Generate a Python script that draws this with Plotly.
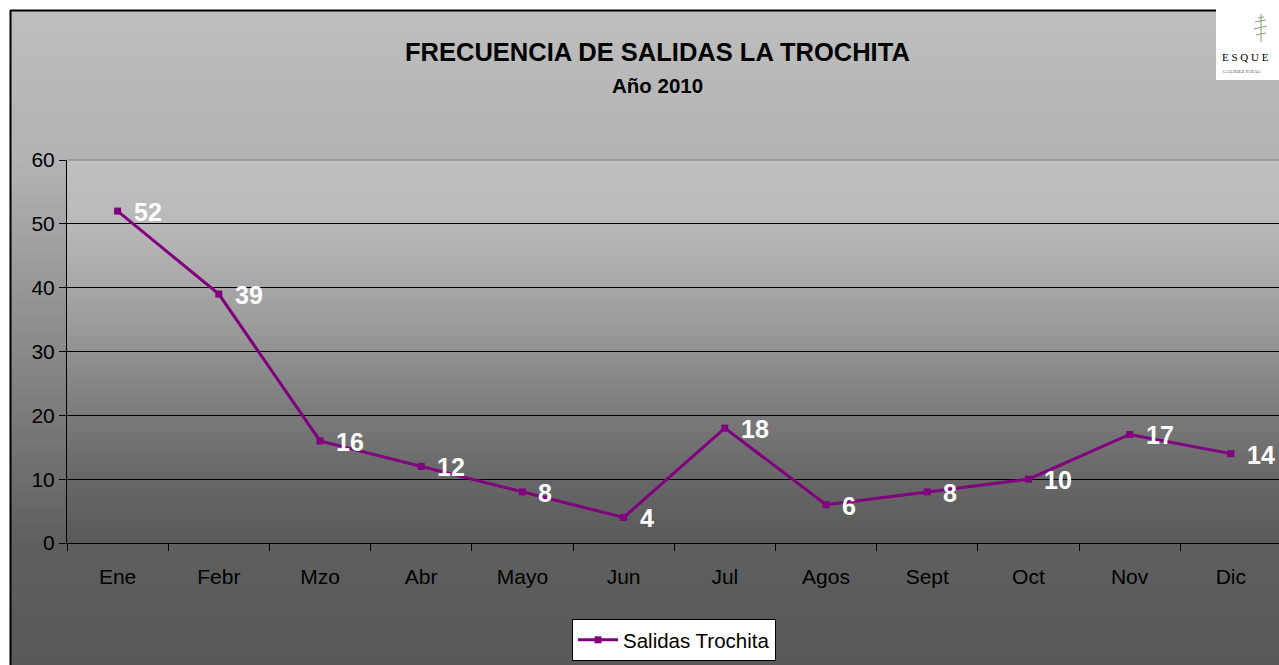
import plotly.graph_objects as go

# ---- data ----
months = ["Ene", "Febr", "Mzo", "Abr", "Mayo", "Jun", "Jul", "Agos", "Sept", "Oct", "Nov", "Dic"]
salidas = [52, 39, 16, 12, 8, 4, 18, 6, 8, 10, 17, 14]
series_name = "Salidas Trochita"
title_text = "FRECUENCIA DE SALIDAS LA TROCHITA"
subtitle_text = "Año 2010"

# ---- geometry (page pixels; body margin is removed in the page) ----
PAGE_W, PAGE_H = 1279, 665
L, R, T, B = 67, 1279, 160, 543  # plot area in page pixels


def xp(px):
    return (px - L) / (R - L)


def yp(py):
    return (B - py) / (B - T)


def interp(y, stops):
    for (y0, c0), (y1, c1) in zip(stops[:-1], stops[1:]):
        if y0 <= y <= y1:
            return c0 + (c1 - c0) * (y - y0) / (y1 - y0)
    return stops[-1][1] if y > stops[-1][0] else stops[0][1]


chart_stops = [(10, 190), (100, 183), (160, 179), (543, 95), (665, 88)]
plot_stops = [(160, 192), (224, 185), (288, 167), (351, 146), (415, 122), (479, 103), (543, 90)]

shapes = []
step = 4
y = 10
while y < PAGE_H:
    v = int(round(interp(y + step / 2, chart_stops)))
    shapes.append(dict(type="rect", xref="paper", yref="paper", layer="below",
                       x0=xp(10), x1=xp(PAGE_W + 2), y0=yp(y), y1=yp(min(y + step, PAGE_H + 2)),
                       line=dict(width=0), fillcolor=f"rgb({v},{v},{v})"))
    y += step
y = T
while y < B:
    v = int(round(interp(y + step / 2, plot_stops)))
    shapes.append(dict(type="rect", xref="paper", yref="paper", layer="below",
                       x0=0, x1=1, y0=yp(y), y1=yp(min(y + step, B)),
                       line=dict(width=0), fillcolor=f"rgb({v},{v},{v})"))
    y += step

# outer frame
shapes.append(dict(type="line", xref="paper", yref="paper", x0=xp(10.5), x1=xp(10.5),
                   y0=yp(10), y1=yp(PAGE_H + 2), line=dict(color="black", width=2)))
shapes.append(dict(type="line", xref="paper", yref="paper", x0=xp(10), x1=xp(1216),
                   y0=yp(10.5), y1=yp(10.5), line=dict(color="black", width=2)))
# top plot border (grey)
shapes.append(dict(type="line", xref="paper", yref="paper", x0=0, x1=1, y0=1, y1=1,
                   line=dict(color="#808080", width=1)))

# logo box
shapes.append(dict(type="rect", xref="paper", yref="paper", x0=xp(1216), x1=xp(PAGE_W + 2),
                   y0=yp(80), y1=yp(0), line=dict(width=0), fillcolor="white"))
green = "#7fa66a"
for (x0, y0, x1, y1) in [(1261, 14, 1261, 42), (1255, 22, 1266, 20), (1254, 29, 1267, 26),
                         (1256, 35, 1266, 33), (1258, 18, 1264, 17)]:
    shapes.append(dict(type="line", xref="paper", yref="paper", x0=xp(x0), x1=xp(x1),
                       y0=yp(y0), y1=yp(y1), line=dict(color=green, width=1)))

font_std = "Liberation Sans, Arial, sans-serif"
font_serif = "Liberation Serif, DejaVu Serif, serif"

annotations = [
    dict(text=f"<b>{title_text}</b>", xref="paper", yref="paper", x=xp(657), y=yp(52),
         xanchor="center", yanchor="middle", showarrow=False,
         font=dict(family=font_std, size=25.5, color="black")),
    dict(text=f"<b>{subtitle_text}</b>", xref="paper", yref="paper", x=xp(657), y=yp(86),
         xanchor="center", yanchor="middle", showarrow=False,
         font=dict(family=font_std, size=20.5, color="black")),
    dict(text="E S Q U E", xref="paper", yref="paper", x=xp(1220), y=yp(57),
         xanchor="left", yanchor="middle", showarrow=False,
         font=dict(family=font_serif, size=11, color="black")),
    dict(text="CALIDEZ PATAG", xref="paper", yref="paper", x=xp(1221), y=yp(71),
         xanchor="left", yanchor="middle", showarrow=False,
         font=dict(family=font_serif, size=5, color="#555555")),
]
for m, v in zip(months, salidas):
    annotations.append(dict(text=f"<b>{v}</b>", x=m, y=v, xref="x", yref="y",
                            xanchor="left", yanchor="middle", xshift=14, yshift=-1,
                            showarrow=False,
                            font=dict(family=font_std, size=25, color="white")))

fig = go.Figure()
fig.add_trace(go.Scatter(
    x=months, y=salidas, name=series_name, mode="lines+markers",
    line=dict(color="#800080", width=3),
    marker=dict(symbol="square", size=7, color="#800080"),
    showlegend=True,
))

fig.update_layout(
    width=PAGE_W, height=PAGE_H,
    margin=dict(l=L, r=PAGE_W - R, t=T, b=PAGE_H - B, pad=0),
    paper_bgcolor="white", plot_bgcolor="rgba(0,0,0,0)",
    font=dict(family=font_std, size=20, color="black"),
    shapes=shapes, annotations=annotations,
    showlegend=True,
    legend=dict(x=xp(572), y=yp(619), xanchor="left", yanchor="top",
                bgcolor="white", bordercolor="black", borderwidth=1,
                font=dict(family=font_std, size=20.5, color="black"),
                itemwidth=40, tracegroupgap=0),
    xaxis=dict(type="category", range=[-0.5, 11.476], showgrid=False,
               showline=True, linecolor="black", linewidth=1,
               ticks="outside", tickson="boundaries", ticklen=7, tickcolor="black",
               tickfont=dict(family=font_std, size=21, color="black"),
               ticklabelstandoff=15, zeroline=False, fixedrange=True),
    yaxis=dict(range=[0, 60], dtick=10, tick0=0, showgrid=True, gridcolor="black", gridwidth=1,
               showline=True, linecolor="black", linewidth=1,
               ticks="outside", ticklen=7, tickcolor="black",
               tickfont=dict(family=font_std, size=21, color="black"),
               zeroline=False, fixedrange=True),
)

fig.write_html(
    "out.html",
    config={"displayModeBar": False},
    post_script="document.body.style.margin='0px';document.documentElement.style.overflow='hidden';",
)
